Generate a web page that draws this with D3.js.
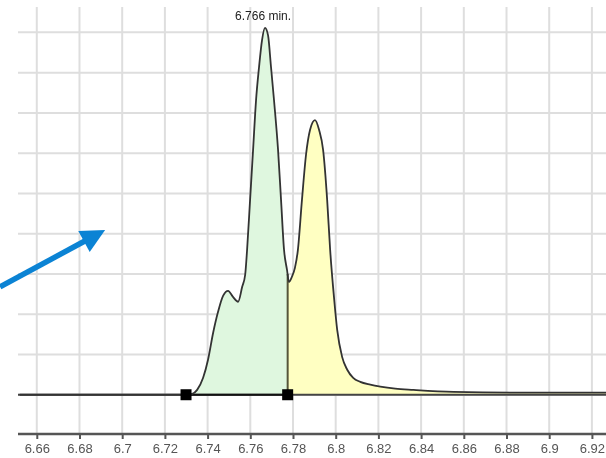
<!DOCTYPE html>
<html>
<head>
<meta charset="utf-8">
<script src="https://cdn.jsdelivr.net/npm/d3@7"></script>
<style>
html, body { margin: 0; padding: 0; background: #fff; }
svg { display: block; filter: blur(0.35px); }
.tickText { font-family: "Liberation Sans", Arial, sans-serif; font-size: 13px; fill: #555; }
.peakText { font-family: "Liberation Sans", Arial, sans-serif; font-size: 12px; fill: #222; }
</style>
</head>
<body>
<div id="chart"></div>
<script>
// retention time (min) and detector signal
const times = [6.652, 6.730, 6.7328, 6.7351, 6.7379, 6.7402, 6.7426, 6.7449, 6.7473, 6.7496,
    6.7519, 6.7543, 6.7562, 6.7576, 6.7585, 6.7599, 6.7613, 6.7627, 6.7641, 6.7655,
    6.7669, 6.7683, 6.7697, 6.7711, 6.7730, 6.7744, 6.7758, 6.7772, 6.7781, 6.7795,
    6.7809, 6.7823, 6.7842, 6.7861, 6.7880, 6.7903, 6.7922, 6.7941, 6.7960, 6.7974,
    6.7993, 6.8007, 6.8030, 6.8054, 6.8082, 6.8115, 6.8162, 6.8209, 6.8279, 6.8364,
    6.8551, 6.8851, 6.927];
const signal = [0, 0, 0.02, 0.12, 0.42, 0.87, 1.54, 2.06, 2.46, 2.58,
    2.43, 2.31, 2.68, 2.98, 3.60, 4.84, 6.08, 7.32, 8.14, 8.81,
    9.11, 8.93, 8.14, 7.32, 6.08, 4.84, 3.60, 3.10, 2.80, 2.93,
    3.15, 3.60, 4.84, 5.96, 6.58, 6.82, 6.58, 6.08, 4.84, 3.60,
    2.36, 1.61, 0.94, 0.62, 0.42, 0.32, 0.25, 0.20, 0.15, 0.12,
    0.07, 0.05, 0.05];

const xTicks = [6.66, 6.68, 6.70, 6.72, 6.74, 6.76, 6.78, 6.80, 6.82, 6.84, 6.86, 6.88, 6.90, 6.92];
const yGrid = [0, 1, 2, 3, 4, 5, 6, 7, 8, 9];

// integration marks: peak start and the drop line between the two peaks
const cutMarks = [6.7299, 6.7775];
const peakTime = 6.766;
const peakLabel = "6.766 min.";

// blue annotation arrow, in data units [time, signal]
const arrowFrom = [6.6428, 2.68];
const arrowTo = [6.6920, 4.09];

const width = 606, height = 458;
const plot = {left: 18, right: 606, top: 7, bottom: 435};

const svg = d3.select('#chart').append('svg')
    .attr('width', width)
    .attr('height', height);

const x = d3.scaleLinear()
    .domain([6.6512, 6.9266])
    .range([plot.left, plot.right]);

const y = d3.scaleLinear()
    .domain([-1, 9.63])
    .range([plot.bottom, plot.top]);

const trace = times.map((t, i) => ({t: t, v: signal[i]}));

// grid
svg.append('g').selectAll('line')
    .data(xTicks)
    .join('line')
    .attr('x1', d => x(d)).attr('x2', d => x(d))
    .attr('y1', plot.top).attr('y2', y(-1))
    .attr('stroke', '#dedede')
    .attr('stroke-width', 2);

svg.append('g').selectAll('line')
    .data(yGrid)
    .join('line')
    .attr('x1', plot.left).attr('x2', plot.right)
    .attr('y1', d => y(d)).attr('y2', d => y(d))
    .attr('stroke', '#dedede')
    .attr('stroke-width', 2);

// fills, split at the drop line
const defs = svg.append('defs');
defs.append('clipPath').attr('id', 'clipA')
    .append('rect')
    .attr('x', x(cutMarks[0])).attr('y', 0)
    .attr('width', x(cutMarks[1]) - x(cutMarks[0])).attr('height', height);
defs.append('clipPath').attr('id', 'clipB')
    .append('rect')
    .attr('x', x(cutMarks[1])).attr('y', 0)
    .attr('width', width - x(cutMarks[1])).attr('height', height);

const area = d3.area()
    .x(d => x(d.t))
    .y0(y(0))
    .y1(d => y(d.v))
    .curve(d3.curveMonotoneX);

svg.append('path')
    .datum(trace)
    .attr('d', area)
    .attr('fill', '#dff7df')
    .attr('clip-path', 'url(#clipA)');

svg.append('path')
    .datum(trace)
    .attr('d', area)
    .attr('fill', '#ffffc2')
    .attr('clip-path', 'url(#clipB)');

// baseline of the signal
svg.append('line')
    .attr('x1', plot.left).attr('x2', plot.right)
    .attr('y1', y(0)).attr('y2', y(0))
    .attr('stroke', '#444')
    .attr('stroke-width', 2);

// integration baseline between the marks
svg.append('line')
    .attr('x1', x(cutMarks[0])).attr('x2', x(cutMarks[1]))
    .attr('y1', y(0)).attr('y2', y(0))
    .attr('stroke', '#111')
    .attr('stroke-width', 2);

// drop line
const bisect = d3.bisector(d => d.t).left;
const j = bisect(trace, cutMarks[1]);
const a = trace[j - 1], b = trace[j];
const dropV = a.v + (b.v - a.v) * (cutMarks[1] - a.t) / (b.t - a.t);
svg.append('line')
    .attr('x1', x(cutMarks[1])).attr('x2', x(cutMarks[1]))
    .attr('y1', y(0)).attr('y2', y(dropV))
    .attr('stroke', '#55553a')
    .attr('stroke-width', 2);

// signal trace
const line = d3.line()
    .x(d => x(d.t))
    .y(d => y(d.v))
    .curve(d3.curveMonotoneX);

svg.append('path')
    .datum(trace)
    .attr('d', line)
    .attr('fill', 'none')
    .attr('stroke', '#333')
    .attr('stroke-width', 1.8);

// mark squares
svg.append('g').selectAll('rect')
    .data(cutMarks)
    .join('rect')
    .attr('x', d => x(d) - 5.5)
    .attr('y', y(0) - 5.5)
    .attr('width', 11).attr('height', 11)
    .attr('fill', '#000');

// peak label
svg.append('text')
    .attr('class', 'peakText')
    .attr('x', x(peakTime))
    .attr('y', 20)
    .attr('text-anchor', 'middle')
    .text(peakLabel);

// x axis
const xAxis = d3.axisBottom(x)
    .tickValues(xTicks)
    .tickSize(5)
    .tickPadding(5)
    .tickFormat(d => String(+d.toFixed(2)));

const gx = svg.append('g')
    .attr('transform', `translate(0,${y(-1) - 1})`)
    .call(xAxis);
gx.select('.domain')
    .attr('d', `M${plot.left},0H${plot.right}`)
    .attr('stroke', '#555')
    .attr('stroke-width', 2.5);
gx.selectAll('.tick line').attr('stroke', '#555').attr('stroke-width', 2);
gx.selectAll('.tick text').attr('class', 'tickText').attr('fill', null);

// arrow
const ax0 = x(arrowFrom[0]), ay0 = y(arrowFrom[1]);
const ax1 = x(arrowTo[0]), ay1 = y(arrowTo[1]);
const ang = Math.atan2(ay1 - ay0, ax1 - ax0);
const headLen = 24, headHalf = 12;
const bx = ax1 - headLen * Math.cos(ang), by = ay1 - headLen * Math.sin(ang);
svg.append('line')
    .attr('x1', ax0).attr('y1', ay0)
    .attr('x2', bx + 2 * Math.cos(ang)).attr('y2', by + 2 * Math.sin(ang))
    .attr('stroke', '#0b83d4')
    .attr('stroke-width', 5.5);
svg.append('path')
    .attr('d', `M${ax1},${ay1}L${bx - headHalf * Math.sin(ang)},${by + headHalf * Math.cos(ang)}L${bx + headHalf * Math.sin(ang)},${by - headHalf * Math.cos(ang)}Z`)
    .attr('fill', '#0b83d4');
</script>
</body>
</html>
